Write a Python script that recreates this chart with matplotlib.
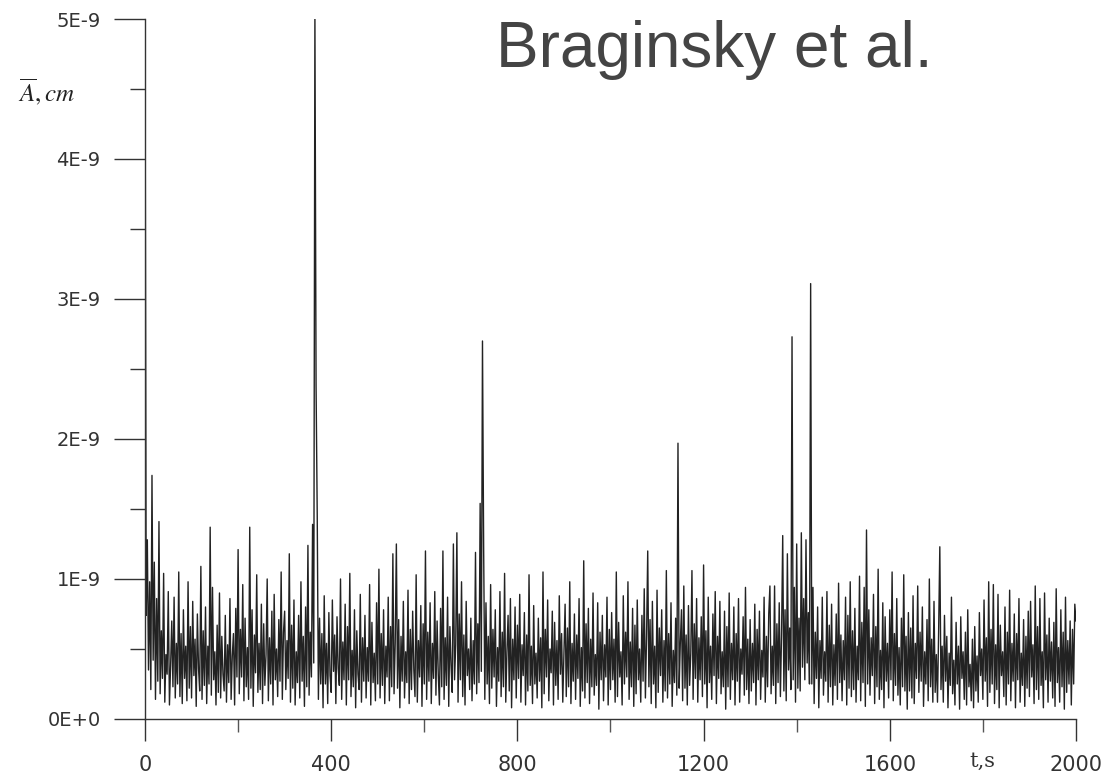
import numpy as np
import matplotlib.pyplot as plt
from matplotlib.ticker import MultipleLocator
from matplotlib.transforms import blended_transform_factory

# averaged amplitude, one reading every 2.5 s, in units of 1e-11 cm
amp = [
    # 0 - 97.5 s
    500, 74, 128, 35, 98, 21, 174, 42, 112, 14, 86, 27, 141, 18, 63, 29, 104, 12, 46, 32,
    91, 10, 38, 70, 23, 87, 15, 54, 25, 105, 16, 61, 11, 78, 29, 52, 13, 98, 22, 66,
    # 100 s
    15, 84, 31, 57, 9, 75, 36, 20, 109, 14, 63, 24, 80, 11, 52, 25, 137, 17, 94, 28,
    48, 10, 67, 19, 90, 15, 59, 32, 20, 74, 12, 53, 26, 86, 14, 45, 61, 10, 79, 30,
    # 200 s
    121, 18, 64, 30, 96, 13, 72, 23, 51, 14, 137, 22, 78, 9, 60, 33, 103, 19, 54, 21,
    82, 11, 68, 24, 46, 100, 13, 58, 25, 77, 10, 89, 28, 50, 16, 71, 27, 105, 14, 62,
    # 300 s
    77, 21, 56, 29, 118, 12, 67, 22, 85, 10, 48, 26, 74, 15, 98, 27, 59, 9, 80, 23,
    124, 17, 62, 30, 139, 40, 505, 238, 145, 14, 72, 25, 61, 8, 88, 25, 54, 11, 76, 31,
    # 400 s
    19, 85, 34, 60, 11, 73, 36, 24, 100, 14, 55, 28, 82, 10, 66, 28, 104, 16, 49, 23,
    78, 8, 63, 32, 21, 89, 12, 58, 27, 74, 15, 51, 27, 96, 10, 69, 26, 47, 13, 83,
    # 500 s
    25, 107, 15, 61, 24, 78, 11, 52, 30, 87, 13, 66, 23, 118, 18, 54, 125, 22, 71, 8,
    59, 27, 84, 15, 48, 26, 92, 11, 64, 21, 77, 35, 16, 103, 12, 56, 30, 81, 9, 68,
    # 600 s
    25, 120, 14, 62, 27, 83, 11, 54, 29, 91, 17, 70, 32, 10, 79, 23, 120, 14, 58, 24,
    87, 9, 66, 38, 19, 125, 28, 53, 133, 12, 75, 28, 98, 16, 60, 10, 84, 31, 50, 21,
    # 700 s
    72, 13, 56, 25, 119, 18, 68, 26, 154, 34, 270, 122, 14, 83, 25, 59, 11, 96, 22, 64,
    30, 78, 9, 51, 27, 91, 16, 62, 23, 104, 12, 48, 74, 20, 86, 8, 57, 28, 80, 15,
    # 800 s
    67, 29, 89, 12, 53, 31, 76, 10, 60, 20, 103, 24, 52, 11, 81, 25, 47, 15, 72, 27,
    58, 8, 105, 18, 64, 30, 85, 13, 50, 33, 77, 10, 69, 24, 56, 14, 88, 32, 61, 12,
    # 900 s
    48, 82, 16, 65, 23, 98, 11, 54, 27, 75, 14, 60, 29, 86, 9, 51, 20, 113, 15, 68,
    26, 79, 11, 57, 23, 90, 17, 46, 24, 83, 7, 62, 28, 74, 13, 53, 30, 87, 10, 64,
    # 1000 s
    21, 76, 28, 57, 12, 105, 16, 69, 30, 48, 10, 88, 25, 62, 30, 98, 14, 55, 23, 79,
    9, 67, 18, 85, 28, 50, 12, 74, 27, 93, 15, 59, 120, 23, 71, 11, 84, 25, 52, 8,
    # 1100 s
    92, 19, 65, 31, 78, 12, 56, 20, 106, 15, 61, 25, 83, 9, 49, 26, 72, 17, 197, 22,
    54, 78, 13, 95, 22, 60, 10, 81, 24, 47, 106, 14, 68, 29, 86, 12, 58, 28, 73, 16,
    # 1200 s
    110, 25, 63, 8, 87, 26, 52, 14, 75, 31, 91, 11, 59, 29, 84, 18, 48, 23, 77, 7,
    66, 23, 90, 14, 54, 28, 80, 10, 61, 27, 86, 12, 50, 32, 73, 17, 94, 21, 57, 11,
    # 1300 s
    71, 20, 54, 26, 82, 10, 64, 28, 77, 14, 49, 30, 87, 12, 59, 23, 75, 95, 18, 52,
    24, 95, 11, 68, 26, 83, 16, 60, 131, 20, 78, 13, 118, 35, 65, 21, 273, 28, 94, 12,
    # 1400 s
    125, 22, 72, 20, 133, 37, 86, 28, 128, 40, 76, 25, 311, 25, 94, 11, 62, 29, 80, 8,
    56, 29, 87, 17, 48, 27, 91, 12, 67, 23, 82, 10, 53, 24, 75, 14, 97, 26, 60, 13,
    # 1500 s
    56, 28, 87, 10, 74, 22, 98, 16, 63, 21, 79, 12, 52, 28, 102, 13, 69, 26, 94, 9,
    135, 25, 78, 17, 58, 31, 89, 11, 66, 23, 107, 14, 49, 21, 83, 8, 73, 27, 54, 15,
    # 1600 s
    78, 28, 105, 13, 61, 24, 86, 17, 51, 10, 72, 23, 103, 20, 59, 7, 76, 20, 65, 15,
    88, 11, 54, 29, 95, 19, 62, 27, 80, 9, 48, 25, 71, 13, 100, 23, 57, 12, 84, 19,
    # 1700 s
    46, 12, 64, 123, 21, 52, 12, 74, 27, 59, 8, 47, 24, 87, 18, 42, 10, 69, 25, 52,
    7, 73, 29, 48, 14, 62, 10, 78, 23, 39, 13, 57, 8, 66, 20, 45, 12, 76, 31, 50,
    # 1800 s
    14, 85, 27, 58, 9, 98, 19, 64, 25, 96, 11, 53, 21, 89, 8, 67, 31, 48, 16, 80,
    10, 62, 25, 92, 13, 54, 27, 75, 8, 61, 28, 86, 12, 47, 24, 71, 9, 59, 22, 77,
    # 1900 - 2000 s
    16, 84, 30, 53, 11, 95, 21, 66, 14, 86, 24, 48, 8, 90, 28, 60, 12, 72, 27, 55,
    15, 69, 9, 93, 26, 51, 12, 78, 23, 62, 7, 87, 19, 56, 25, 70, 10, 64, 25, 82,
    70,
]
amp = np.array(amp) * 1e-11
t = np.arange(len(amp)) * 2.5

y_ticks = [0, 1e-9, 2e-9, 3e-9, 4e-9, 5e-9]
y_labels = ['0E+0', '1E-9', '2E-9', '3E-9', '4E-9', '5E-9']
x_ticks = [0, 400, 800, 1200, 1600, 2000]
x_labels = ['0', '400', '800', '1200', '1600', '2000']

fig = plt.figure(figsize=(11.12, 7.82), dpi=100)
ax = fig.add_axes([0.1304, 0.0806, 0.8372, 0.8951])

ax.plot(t, amp, color='#222222', linewidth=1.0)

ax.set_xlim(0, 2000)
ax.set_ylim(0, 5e-9)

ax.spines['top'].set_visible(False)
ax.spines['right'].set_visible(False)
for s in ['left', 'bottom']:
    ax.spines[s].set_color('#333333')
    ax.spines[s].set_linewidth(1.0)

ax.set_yticks(y_ticks)
ax.set_yticklabels(y_labels)
ax.yaxis.set_minor_locator(MultipleLocator(0.5e-9))
ax.set_xticks(x_ticks)
ax.set_xticklabels(x_labels)
ax.xaxis.set_minor_locator(MultipleLocator(200))

ax.tick_params(axis='y', which='major', length=22, width=1.0, pad=10,
               labelsize=14, labelcolor='#333333', color='#333333')
ax.tick_params(axis='y', which='minor', length=11, width=1.0, color='#333333')
ax.tick_params(axis='x', which='major', length=16, width=1.0, pad=10,
               labelsize=15, labelcolor='#333333', color='#333333')
ax.tick_params(axis='x', which='minor', length=9, width=1.0, color='#555555')

# axis names
trans = blended_transform_factory(ax.transData, ax.transAxes)
ax.text(1800, -0.047, 't,s', transform=trans, ha='center', va='top',
        fontsize=15, family='DejaVu Serif', color='#333333')
fig.text(0.016, 1 - 92 / 782, r'$\overline{A},cm$', ha='left', va='center',
         fontsize=18, color='#222222', math_fontfamily='stix')

fig.text(0.642, 1 - 50 / 782, 'Braginsky et al.', ha='center', va='center',
         fontsize=46, family='Liberation Sans', color='#444444')

fig.savefig('out.png', dpi=100)
